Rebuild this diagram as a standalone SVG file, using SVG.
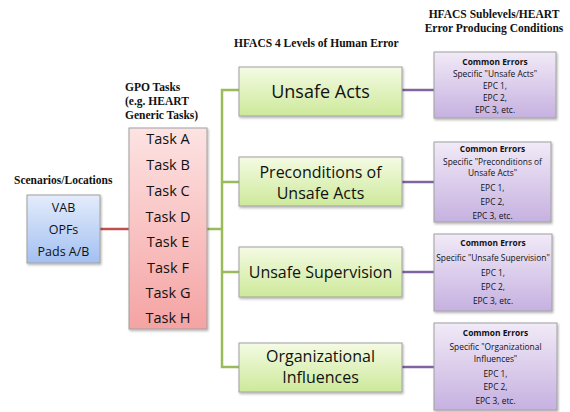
<svg xmlns="http://www.w3.org/2000/svg" width="570" height="412" viewBox="0 0 570 412">
<defs>
<linearGradient id="gBlue" x1="0" y1="0" x2="0" y2="1"><stop offset="0" stop-color="#e3ecfb"/><stop offset="1" stop-color="#a3c0f2"/></linearGradient>
<linearGradient id="gPink" x1="0" y1="0" x2="0" y2="1"><stop offset="0" stop-color="#fde3e3"/><stop offset="1" stop-color="#f5a3a3"/></linearGradient>
<linearGradient id="gGreen" x1="0" y1="0" x2="0" y2="1"><stop offset="0" stop-color="#f4fbe3"/><stop offset="1" stop-color="#cde99a"/></linearGradient>
<linearGradient id="gPurple" x1="0" y1="0" x2="0" y2="1"><stop offset="0" stop-color="#f1eaf7"/><stop offset="1" stop-color="#c6b1e0"/></linearGradient>
<filter id="sh" x="-10%" y="-10%" width="125%" height="125%"><feDropShadow dx="1" dy="1.5" stdDeviation="1" flood-color="#000" flood-opacity="0.3"/></filter>
</defs>
<style>
.hd{font-family:"Liberation Serif","Times New Roman",serif;font-weight:bold;font-size:11.5px;fill:#111}
.box{stroke:#a0a0a0;stroke-width:1;filter:url(#sh)}
.t{font-family:"Open Sans","Liberation Sans",sans-serif;fill:#111;text-anchor:middle;dominant-baseline:central}
.sm{font-size:8.4px}
.b{font-weight:bold}
.ln{fill:none;stroke-width:2.5}
</style>
<rect width="570" height="412" fill="#fff"/>
<g id="headers">
<text class="hd" x="14" y="184">Scenarios/Locations</text>
<text class="hd" x="125" y="91">GPO Tasks</text>
<text class="hd" x="125" y="105">(e.g. HEART</text>
<text class="hd" x="125" y="119">Generic Tasks)</text>
<text class="hd" x="234" y="47">HFACS 4 Levels of Human Error</text>
<text class="hd" x="494" y="18" text-anchor="middle">HFACS Sublevels/HEART</text>
<text class="hd" x="494" y="32" text-anchor="middle">Error Producing Conditions</text>
</g>
<g id="connectors">
<line class="ln" x1="100" y1="229" x2="129" y2="229" stroke="#c0504d"/>
<line class="ln" x1="207" y1="229" x2="222" y2="229" stroke="#9bbb59"/>
<path class="ln" d="M239 90 H222 V367 H239 M222 182 H239 M222 272 H239" stroke="#9bbb59"/>
<g stroke="#8064a2" class="ln">
<line x1="402" y1="90" x2="434" y2="90"/>
<line x1="402" y1="182" x2="434" y2="182"/>
<line x1="402" y1="272" x2="434" y2="272"/>
<line x1="402" y1="367" x2="434" y2="367"/>
</g>
</g>
<g id="locations">
<rect class="box" x="27" y="195" width="73" height="68" fill="url(#gBlue)"/>
<text class="t" x="63.5" y="207" font-size="12.5">VAB</text>
<text class="t" x="63.5" y="229" font-size="12.5">OPFs</text>
<text class="t" x="63.5" y="251" font-size="12.5">Pads A/B</text>
</g>
<g id="tasks">
<rect class="box" x="129" y="128" width="78" height="201" fill="url(#gPink)"/>
<g font-size="14.5">
<text class="t" x="168" y="138">Task A</text>
<text class="t" x="168" y="164">Task B</text>
<text class="t" x="168" y="190">Task C</text>
<text class="t" x="168" y="216">Task D</text>
<text class="t" x="168" y="241">Task E</text>
<text class="t" x="168" y="267">Task F</text>
<text class="t" x="168" y="292">Task G</text>
<text class="t" x="168" y="317">Task H</text>
</g>
</g>
<g id="unsafe-acts">
<rect class="box" x="239" y="67" width="163" height="49" fill="url(#gGreen)"/>
<text class="t" x="320.5" y="91" font-size="18">Unsafe Acts</text>
</g>
<g id="preconditions">
<rect class="box" x="239" y="157" width="163" height="49" fill="url(#gGreen)"/>
<text class="t" x="320.5" y="172" font-size="16">Preconditions of</text>
<text class="t" x="320.5" y="193" font-size="16">Unsafe Acts</text>
</g>
<g id="unsafe-supervision">
<rect class="box" x="239" y="247" width="163" height="50" fill="url(#gGreen)"/>
<text class="t" x="320.5" y="272" font-size="16">Unsafe Supervision</text>
</g>
<g id="organizational">
<rect class="box" x="239" y="343" width="163" height="49" fill="url(#gGreen)"/>
<text class="t" x="320.5" y="356" font-size="16">Organizational</text>
<text class="t" x="320.5" y="377" font-size="16">Influences</text>
</g>
<g id="errors-1">
<rect class="box" x="434" y="52" width="122" height="66" fill="url(#gPurple)"/>
<text class="t sm b" x="495" y="61">Common Errors</text>
<text class="t sm" x="495" y="73">Specific "Unsafe Acts"</text>
<text class="t sm" x="495" y="85">EPC 1,</text>
<text class="t sm" x="495" y="97">EPC 2,</text>
<text class="t sm" x="495" y="109">EPC 3, etc.</text>
</g>
<g id="errors-2">
<rect class="box" x="434" y="142" width="117" height="80" fill="url(#gPurple)"/>
<text class="t sm b" x="492.5" y="148">Common Errors</text>
<text class="t sm" x="492.5" y="161">Specific "Preconditions of</text>
<text class="t sm" x="492.5" y="172.5">Unsafe Acts"</text>
<text class="t sm" x="492.5" y="187">EPC 1,</text>
<text class="t sm" x="492.5" y="201">EPC 2,</text>
<text class="t sm" x="492.5" y="215">EPC 3, etc.</text>
</g>
<g id="errors-3">
<rect class="box" x="434" y="234" width="118" height="77" fill="url(#gPurple)"/>
<text class="t sm b" x="493" y="242">Common Errors</text>
<text class="t sm" x="493" y="257">Specific "Unsafe Supervision"</text>
<text class="t sm" x="493" y="272">EPC 1,</text>
<text class="t sm" x="493" y="286">EPC 2,</text>
<text class="t sm" x="493" y="300">EPC 3, etc.</text>
</g>
<g id="errors-4">
<rect class="box" x="434" y="323" width="123" height="87" fill="url(#gPurple)"/>
<text class="t sm b" x="495.5" y="332">Common Errors</text>
<text class="t sm" x="495.5" y="346.5">Specific "Organizational</text>
<text class="t sm" x="495.5" y="358">Influences"</text>
<text class="t sm" x="495.5" y="373">EPC 1,</text>
<text class="t sm" x="495.5" y="386">EPC 2,</text>
<text class="t sm" x="495.5" y="400">EPC 3, etc.</text>
</g>
</svg>
